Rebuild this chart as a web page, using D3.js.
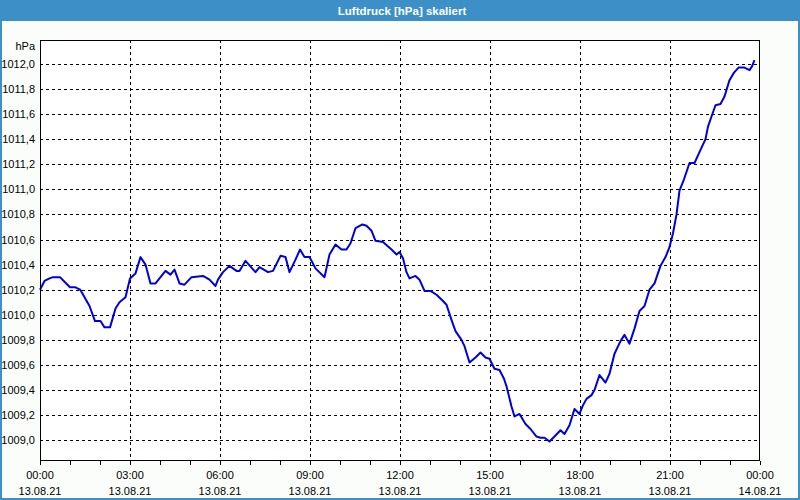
<!DOCTYPE html>
<html><head><meta charset="utf-8">
<script src="https://cdn.jsdelivr.net/npm/d3@7"></script>
<style>
html,body{margin:0;padding:0;background:#fbfdfb;}
svg{display:block;}
text{font-family:"Liberation Sans",Arial,sans-serif;}
</style></head>
<body>
<svg id="c" width="800" height="500"></svg>
<script>
const title = "Luftdruck [hPa] skaliert";
const unit = "hPa";
// minutes since 13.08.21 00:00
const minutes = [0,9,19,26,40,50,60,70,80,82,99,110,121,129,140,151,159,171,180,191,201,211,221,231,251,261,269,279,289,303,326,339,351,356,366,379,393,399,411,431,439,456,466,481,491,499,511,520,529,539,551,569,579,591,603,613,621,631,645,653,663,671,686,703,713,719,726,733,739,751,759,769,781,793,806,813,823,831,843,849,859,871,881,891,899,909,919,928,933,943,949,959,971,981,993,1001,1009,1019,1029,1041,1049,1059,1069,1079,1086,1093,1103,1109,1119,1131,1139,1149,1161,1169,1179,1189,1199,1209,1219,1229,1241,1251,1259,1266,1273,1279,1288,1299,1309,1316,1324,1331,1336,1343,1351,1361,1369,1379,1388,1397,1409,1419,1424,1429];
const pressure = [1010.20,1010.27,1010.29,1010.30,1010.30,1010.26,1010.22,1010.22,1010.20,1010.19,1010.07,1009.95,1009.95,1009.90,1009.90,1010.05,1010.10,1010.14,1010.29,1010.33,1010.46,1010.40,1010.25,1010.25,1010.35,1010.32,1010.36,1010.25,1010.24,1010.30,1010.31,1010.28,1010.23,1010.28,1010.34,1010.39,1010.35,1010.35,1010.43,1010.34,1010.38,1010.34,1010.35,1010.47,1010.46,1010.34,1010.44,1010.52,1010.46,1010.46,1010.37,1010.30,1010.48,1010.56,1010.52,1010.52,1010.57,1010.69,1010.72,1010.71,1010.67,1010.59,1010.58,1010.52,1010.48,1010.50,1010.45,1010.34,1010.29,1010.31,1010.28,1010.19,1010.19,1010.16,1010.11,1010.08,1009.96,1009.87,1009.80,1009.75,1009.62,1009.66,1009.70,1009.66,1009.65,1009.57,1009.56,1009.49,1009.43,1009.27,1009.19,1009.21,1009.13,1009.09,1009.03,1009.02,1009.02,1008.99,1009.03,1009.08,1009.05,1009.12,1009.25,1009.21,1009.28,1009.33,1009.36,1009.40,1009.52,1009.46,1009.53,1009.69,1009.79,1009.84,1009.77,1009.89,1010.03,1010.07,1010.20,1010.25,1010.39,1010.46,1010.54,1010.65,1010.80,1010.99,1011.08,1011.21,1011.21,1011.27,1011.34,1011.40,1011.50,1011.58,1011.67,1011.68,1011.74,1011.87,1011.93,1011.97,1011.97,1011.95,1011.98,1012.03];
const yTicks = [1009.0,1009.2,1009.4,1009.6,1009.8,1010.0,1010.2,1010.4,1010.6,1010.8,1011.0,1011.2,1011.4,1011.6,1011.8,1012.0];
const xTickHours = [0,3,6,9,12,15,18,21,24];
const xTimeLabels = ["00:00","03:00","06:00","09:00","12:00","15:00","18:00","21:00","00:00"];
const xDateLabels = ["13.08.21","13.08.21","13.08.21","13.08.21","13.08.21","13.08.21","13.08.21","13.08.21","14.08.21"];
const xMinorHours = d3.range(0,25);

const svg = d3.select("#c");
const L=40, R=760, T=40, B=461;
const x = d3.scaleLinear().domain([0,24*60]).range([L,R]);
const y = d3.scaleLinear().domain([1008.835,1012.19]).range([B,T]);

// title bar
svg.append("rect").attr("x",0).attr("y",0).attr("width",800).attr("height",21).attr("fill","#3c8fc7");
svg.append("text").attr("x",402).attr("y",15).attr("text-anchor","middle")
  .attr("fill","#fff").attr("font-weight","bold").attr("font-size",11.5).text(title);
// window border
svg.append("path").attr("d","M1,21V499H799V21").attr("fill","none").attr("stroke","#3c8fc7").attr("stroke-width",2);

// plot background
svg.append("rect").attr("x",L).attr("y",T).attr("width",R-L).attr("height",B-T).attr("fill","#fefffe");

// grid
const grid = svg.append("g").attr("stroke","#000").attr("stroke-width",1).attr("stroke-dasharray","3,3").attr("shape-rendering","crispEdges");
grid.selectAll("line.h").data(yTicks).join("line")
  .attr("x1",L).attr("x2",R).attr("y1",d=>Math.round(y(d))+0.5).attr("y2",d=>Math.round(y(d))+0.5);
grid.selectAll("line.v").data(xTickHours.slice(1,-1)).join("line")
  .attr("y1",T).attr("y2",B).attr("x1",d=>Math.round(x(d*60))+0.5).attr("x2",d=>Math.round(x(d*60))+0.5);

// y axis labels
const ya = svg.append("g").attr("transform",`translate(${L},0)`)
  .call(d3.axisLeft(y).tickValues(yTicks).tickSize(0).tickPadding(5).tickFormat(d=>d3.format(".1f")(d).replace(".",",")));
ya.select(".domain").remove();
ya.selectAll("text").attr("font-family","Liberation Sans, Arial, sans-serif").attr("font-size",11).attr("fill","#000");
svg.append("text").attr("x",35).attr("y",50).attr("text-anchor","end").attr("font-size",11).attr("fill","#000").text(unit);

// x axis ticks
const xa = svg.append("g").attr("transform",`translate(0,${B})`)
  .call(d3.axisBottom(x).tickValues(xMinorHours.map(h=>h*60)).tickSize(4).tickFormat(""));
xa.select(".domain").remove();
xa.selectAll("line").attr("stroke","#000").attr("shape-rendering","crispEdges");
const lab = svg.append("g").attr("font-size",11).attr("fill","#000").attr("text-anchor","middle");
lab.selectAll("text.t").data(xTickHours).join("text").attr("x",d=>x(d*60)).attr("y",479).text((d,i)=>xTimeLabels[i]);
lab.selectAll("text.d").data(xTickHours).join("text").attr("x",d=>x(d*60)).attr("y",495).text((d,i)=>xDateLabels[i]);

// line
const pts = minutes.map((m,i)=>[m,pressure[i]]);
svg.append("path").datum(pts).attr("fill","none").attr("stroke","#0000dd").attr("stroke-width",2)
  .attr("stroke-linejoin","round")
  .attr("d",d3.line().x(d=>x(d[0])).y(d=>y(d[1])));

// frame
svg.append("rect").attr("x",L+0.5).attr("y",T+0.5).attr("width",R-L-1).attr("height",B-T-1)
  .attr("fill","none").attr("stroke","#000").attr("shape-rendering","crispEdges");
</script>
</body></html>
